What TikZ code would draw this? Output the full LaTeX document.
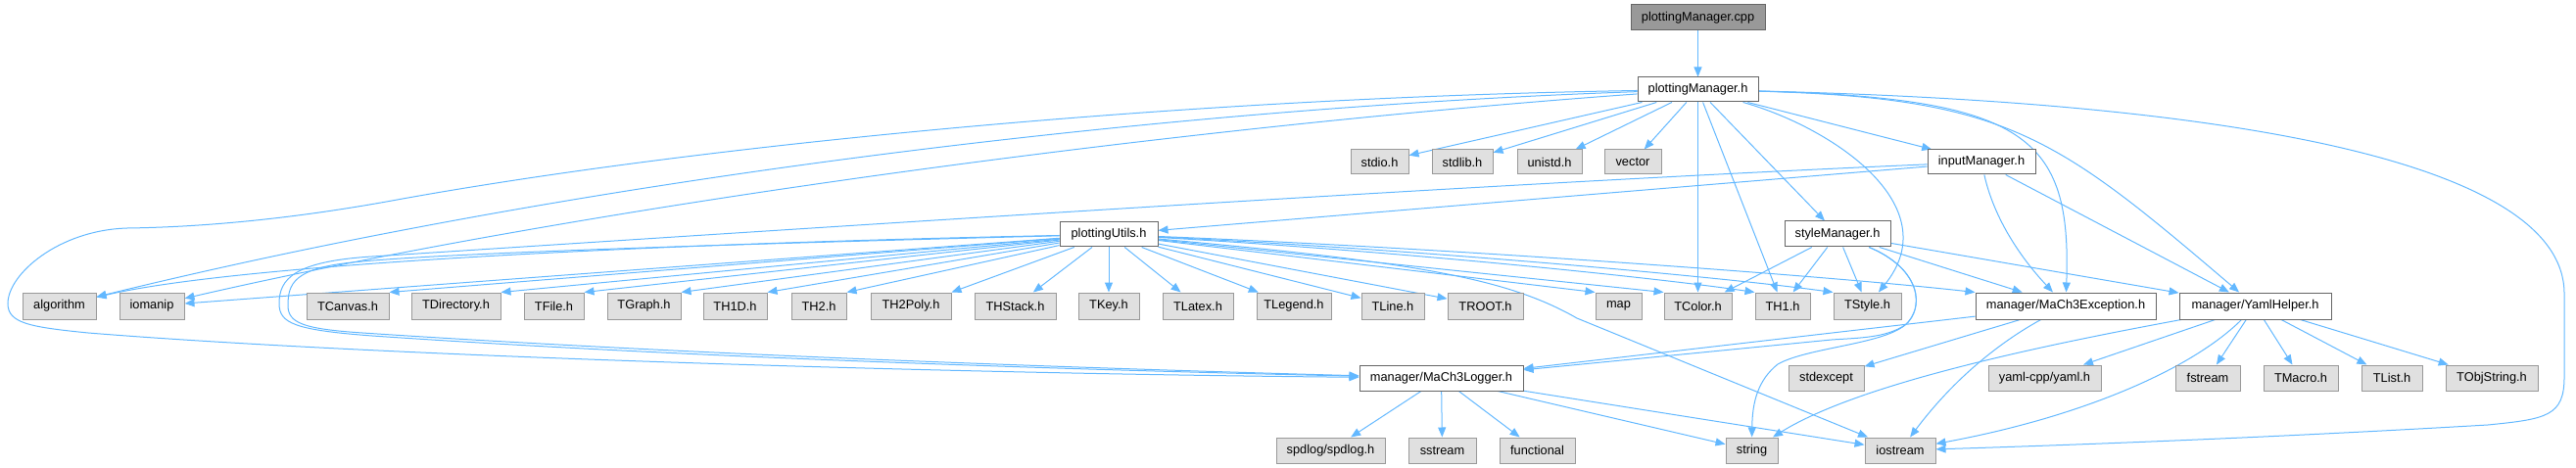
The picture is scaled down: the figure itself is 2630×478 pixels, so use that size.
\documentclass[tikz,border=0pt]{standalone}
\usepackage{fontspec}
\setmainfont{Liberation Sans}
\usetikzlibrary{arrows.meta}
\definecolor{edgec}{HTML}{63B8FF}
\definecolor{extfill}{HTML}{E0E0E0}
\definecolor{extdraw}{HTML}{999999}
\definecolor{nodedraw}{HTML}{666666}
\definecolor{rootfill}{HTML}{999999}
\pgfdeclarelayer{bg}
\pgfsetlayers{bg,main}
\begin{document}
\begin{tikzpicture}[x=1pt,y=1pt,
 base/.style={rectangle,inner sep=0pt,minimum height=26pt,font=\fontsize{12.8}{15}\selectfont,text=black,line width=1pt},
 ext/.style={base,draw=extdraw,fill=extfill},
 inc/.style={base,draw=nodedraw,fill=white},
 root/.style={base,draw=nodedraw,fill=rootfill},
 w/.style={minimum width=#1},
 conn/.style={draw=edgec,line width=1pt,-{Triangle[length=10pt,width=8pt]}},
]
\useasboundingbox (0,0) rectangle (2630,-478);
\node[root,w=137] (cpp) at (1733.5,-18) {plottingManager.cpp};
\node[inc,w=123,minimum height=25pt] (pm) at (1733.5,-91.5) {plottingManager.h};
\node[ext,w=59,minimum height=25pt] (stdio) at (1408.5,-165.5) {stdio.h};
\node[ext,w=62,minimum height=25pt] (stdlib) at (1493,-165.5) {stdlib.h};
\node[ext,w=66,minimum height=25pt] (unistd) at (1582,-165.5) {unistd.h};
\node[ext,w=58,minimum height=25pt] (vector) at (1667,-165.5) {vector};
\node[inc,w=110,minimum height=25pt] (im) at (2023,-165.5) {inputManager.h};
\node[inc,w=100,minimum height=25pt] (pu) at (1132,-239.5) {plottingUtils.h};
\node[inc,w=108,minimum height=26pt] (sm) at (1876,-239) {styleManager.h};
%
\node[ext,w=75,minimum height=27pt] (algorithm) at (60.5,-312.5) {algorithm};
\node[ext,w=66,minimum height=27pt] (iomanip) at (155,-312.5) {iomanip};
\node[ext,w=84,minimum height=27pt] (tcanvas) at (355,-312.5) {TCanvas.h};
\node[ext,w=91,minimum height=27pt] (tdir) at (465.5,-312.5) {TDirectory.h};
\node[ext,w=61,minimum height=27pt] (tfile) at (565.5,-312.5) {TFile.h};
\node[ext,w=75,minimum height=27pt] (tgraph) at (657.5,-312.5) {TGraph.h};
\node[ext,w=65,minimum height=27pt] (th1d) at (750.5,-312.5) {TH1D.h};
\node[ext,w=56,minimum height=27pt] (th2) at (836,-312.5) {TH2.h};
\node[ext,w=82,minimum height=27pt] (th2poly) at (930,-312.5) {TH2Poly.h};
\node[ext,w=83,minimum height=27pt] (thstack) at (1036.5,-312.5) {THStack.h};
\node[ext,w=62,minimum height=27pt] (tkey) at (1132,-312.5) {TKey.h};
\node[ext,w=72,minimum height=27pt] (tlatex) at (1223,-312.5) {TLatex.h};
\node[ext,w=76,minimum height=27pt] (tlegend) at (1321,-312.5) {TLegend.h};
\node[ext,w=64,minimum height=27pt] (tline) at (1422,-312.5) {TLine.h};
\node[ext,w=77,minimum height=27pt] (troot) at (1516.5,-312.5) {TROOT.h};
\node[ext,w=47,minimum height=27pt] (map) at (1652.5,-312.5) {map};
\node[ext,w=69,minimum height=27pt] (tcolor) at (1733.5,-312.5) {TColor.h};
\node[ext,w=56,minimum height=27pt] (th1) at (1820,-312.5) {TH1.h};
\node[ext,w=69,minimum height=27pt] (tstyle) at (1906.5,-312.5) {TStyle.h};
\node[inc,w=184,minimum height=27pt] (exc) at (2109,-312.5) {manager/MaCh3Exception.h};
\node[inc,w=155,minimum height=27pt] (yaml) at (2302.5,-312.5) {manager/YamlHelper.h};
%
\node[inc,w=167] (logger) at (1471.5,-386) {manager/MaCh3Logger.h};
\node[ext,w=77] (stdexcept) at (1864.5,-386) {stdexcept};
\node[ext,w=115] (yamlcpp) at (2087.5,-386) {yaml-cpp/yaml.h};
\node[ext,w=66] (fstream) at (2254,-386) {fstream};
\node[ext,w=76] (tmacro) at (2349,-386) {TMacro.h};
\node[ext,w=62] (tlist) at (2442,-386) {TList.h};
\node[ext,w=94] (tobjstring) at (2544,-386) {TObjString.h};
%
\node[ext,w=111] (spdlog) at (1358.5,-460) {spdlog/spdlog.h};
\node[ext,w=69] (sstream) at (1472.5,-460) {sstream};
\node[ext,w=77] (functional) at (1569.5,-460) {functional};
\node[ext,w=53] (string) at (1788.5,-460) {string};
\node[ext,w=72] (iostream) at (1940,-460) {iostream};
%
\begin{pgfonlayer}{bg}
\draw[conn] (cpp) -- (pm);
% plottingManager.h
\draw[conn] (pm) -- (stdio);
\draw[conn] (pm) -- (stdlib);
\draw[conn] (pm) -- (unistd);
\draw[conn] (pm) -- (vector);
\draw[conn] (pm) -- (im);
\draw[conn] (pm) -- (sm);
\draw[conn] (pm) -- (tcolor);
\draw[conn] (pm) -- (th1);
\draw[conn] (pm) .. controls (1200,-110) and (600,-180) .. (algorithm);
\draw[conn] (pm) .. controls (1200,-130) and (600,-210) .. (iomanip);
\draw[conn] (pm) .. controls (1200,-100) and (700,-150) .. (400,-205)
  .. controls (290,-225) and (200,-232) .. (130,-233)
  .. controls (60,-235) and (8,-280) .. (8,-310)
  .. controls (8,-330) and (30,-334) .. (90,-340)
  .. controls (400,-365) and (1000,-382) .. (logger);
\draw[conn] (pm) .. controls (1870,-130) and (1990,-210) .. (tstyle);
\draw[conn] (pm) .. controls (2070,-100) and (2115,-140) .. (exc);
\draw[conn] (pm) .. controls (2050,-100) and (2100,-140) .. (yaml);
\draw[conn] (pm) .. controls (2300,-105) and (2618,-170) .. (2618,-300) -- (2618,-385)
  .. controls (2618,-425) and (2600,-428) .. (2540,-434)
  .. controls (2300,-448) and (2100,-455) .. (iostream);
% inputManager.h
\draw[conn] (im) -- (pu);
\draw[conn] (im) .. controls (1500,-188) and (800,-235) .. (380,-262)
  .. controls (300,-267) and (285,-285) .. (285,-310)
  .. controls (285,-330) and (300,-337) .. (380,-343)
  .. controls (700,-365) and (1100,-378) .. (logger);
\draw[conn] (im) .. controls (2035,-220) and (2060,-260) .. (exc);
\draw[conn] (im) -- (yaml);
% plottingUtils.h
\draw[conn] (pu) .. controls (700,-248) and (250,-268) .. (algorithm);
\draw[conn] (pu) -- (iomanip);
\draw[conn] (pu) -- (tcanvas.north east);
\draw[conn] (pu) -- (tdir.north east);
\draw[conn] (pu) -- (tfile.north east);
\draw[conn] (pu) -- (tgraph.north east);
\draw[conn] (pu) -- (th1d.north east);
\draw[conn] (pu) -- (th2.north east);
\draw[conn] (pu) -- (th2poly.north east);
\draw[conn] (pu) -- (thstack);
\draw[conn] (pu) -- (tkey);
\draw[conn] (pu) -- (tlatex);
\draw[conn] (pu) -- (tlegend);
\draw[conn] (pu) -- (tline);
\draw[conn] (pu) -- (troot);
\draw[conn] (pu) -- (map.north west);
\draw[conn] (pu) -- (tcolor.north west);
\draw[conn] (pu) .. controls (1450,-258) and (1700,-285) .. (th1.north west);
\draw[conn] (pu) .. controls (1450,-255) and (1750,-282) .. (tstyle.north west);
\draw[conn] (pu) .. controls (1450,-252) and (1850,-280) .. (exc.north west);
\draw[conn] (pu) .. controls (1450,-268) and (1540,-285) .. (1610,-325) -- (iostream);
\draw[conn] (pu) .. controls (800,-248) and (450,-258) .. (360,-268)
  .. controls (300,-274) and (294,-290) .. (294,-312)
  .. controls (294,-330) and (310,-336) .. (370,-340)
  .. controls (700,-362) and (1100,-376) .. (logger);
% styleManager.h
\draw[conn] (sm) -- (tcolor);
\draw[conn] (sm) -- (th1);
\draw[conn] (sm) -- (tstyle);
\draw[conn] (sm) -- (exc);
\draw[conn] (sm) -- (yaml);
\draw[conn] (sm) .. controls (1962,-275) and (1965,-315) .. (1945,-332)
  .. controls (1921,-352) and (1845,-355) .. (1815,-372)
  .. controls (1795,-388) and (1789,-410) .. (string);
\draw[conn] (sm) .. controls (1962,-275) and (1965,-315) .. (1945,-332)
  .. controls (1925,-345) and (1900,-345) .. (1870,-347) -- (logger);
% MaCh3Exception.h
\draw[conn] (exc) -- (logger);
\draw[conn] (exc) -- (stdexcept);
\draw[conn] (exc) .. controls (2050,-345) and (2000,-380) .. (iostream);
% YamlHelper.h
\draw[conn] (yaml) .. controls (2100,-350) and (1900,-390) .. (string);
\draw[conn] (yaml) .. controls (2240,-375) and (2130,-425) .. (iostream);
\draw[conn] (yaml) -- (yamlcpp);
\draw[conn] (yaml) -- (fstream);
\draw[conn] (yaml) -- (tmacro);
\draw[conn] (yaml) -- (tlist);
\draw[conn] (yaml) -- (tobjstring);
% MaCh3Logger.h
\draw[conn] (logger) -- (spdlog);
\draw[conn] (logger) -- (sstream);
\draw[conn] (logger) -- (functional);
\draw[conn] (logger) -- (string);
\draw[conn] (logger) -- (iostream);
\end{pgfonlayer}
\end{tikzpicture}
\end{document}
